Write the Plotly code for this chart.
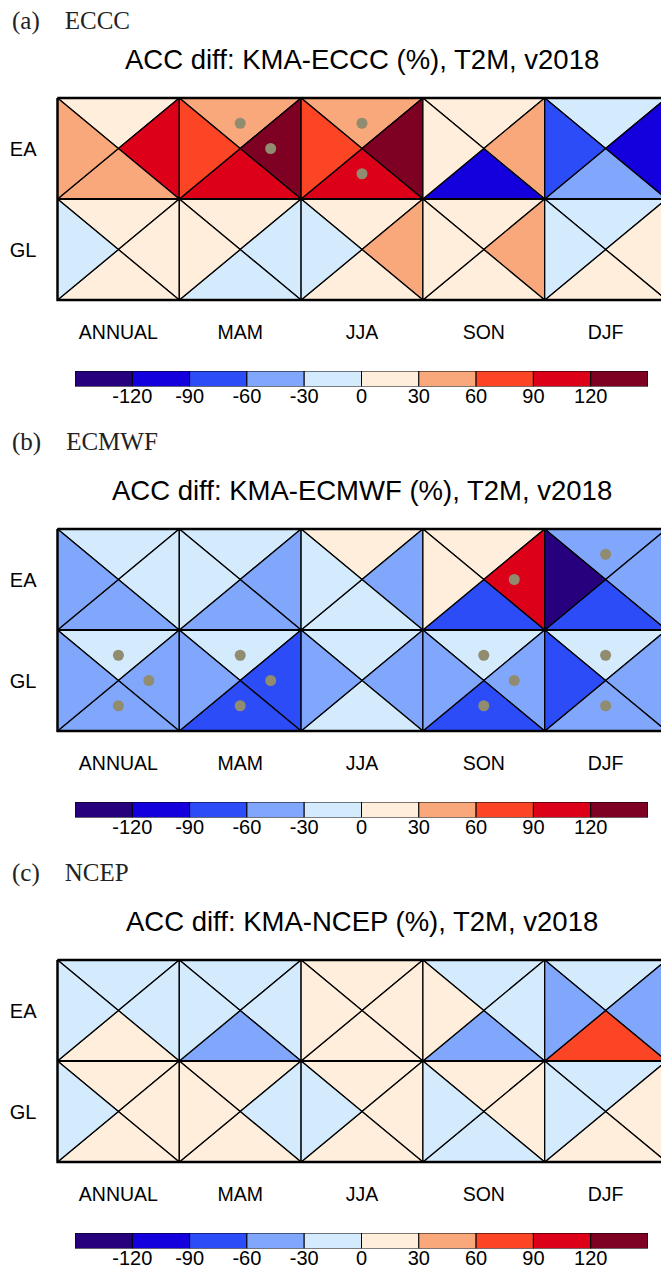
import plotly.graph_objects as go

W, H = 661, 1272

# ---------------- data ----------------
seasons = ["ANNUAL", "MAM", "JJA", "SON", "DJF"]
regions = ["EA", "GL"]
quadrants = ["top", "right", "bottom", "left"]

# ACC difference (%) per season cell: [top, right, bottom, left]
eccc_EA = [[12, 104, 41, 47], [52, 131, 108, 82], [48, 137, 112, 79], [18, 39, -98, 9], [-14, -109, -43, -72]]
eccc_GL = [[11, 8, 14, -6], [7, -12, -9, 10], [13, 36, 16, -8], [9, 34, 12, 6], [-10, 5, 17, -13]]
eccc_EA_sig = [[0, 0, 0, 0], [1, 1, 0, 0], [1, 0, 1, 0], [0, 0, 0, 0], [0, 0, 0, 0]]
eccc_GL_sig = [[0, 0, 0, 0], [0, 0, 0, 0], [0, 0, 0, 0], [0, 0, 0, 0], [0, 0, 0, 0]]

ecmwf_EA = [[-18, -11, -41, -47], [-22, -38, -44, -16], [8, -36, -20, -14], [6, 103, -68, 12], [-52, -40, -83, -128]]
ecmwf_GL = [[-26, -39, -42, -45], [-24, -63, -71, -37], [-21, -33, -17, -40], [-27, -44, -66, -35], [-25, -48, -38, -64]]
ecmwf_EA_sig = [[0, 0, 0, 0], [0, 0, 0, 0], [0, 0, 0, 0], [0, 1, 0, 0], [1, 0, 0, 0]]
ecmwf_GL_sig = [[1, 1, 1, 0], [1, 1, 1, 0], [0, 0, 0, 0], [1, 1, 1, 0], [1, 0, 1, 0]]

ncep_EA = [[-9, -13, 7, -17], [-15, -11, -34, -19], [4, 9, 13, 6], [-12, -8, -37, 5], [-23, -42, 68, -46]]
ncep_GL = [[6, 9, 5, -4], [8, -7, 11, 4], [7, 3, 10, -5], [5, 11, -6, -9], [-8, 4, 13, -11]]
ncep_EA_sig = [[0, 0, 0, 0], [0, 0, 0, 0], [0, 0, 0, 0], [0, 0, 0, 0], [0, 0, 0, 0]]
ncep_GL_sig = [[0, 0, 0, 0], [0, 0, 0, 0], [0, 0, 0, 0], [0, 0, 0, 0], [0, 0, 0, 0]]

panel_tags = ["(a)", "(b)", "(c)"]
models = ["ECCC", "ECMWF", "NCEP"]

levels = [-150, -120, -90, -60, -30, 0, 30, 60, 90, 120, 150]
level_colors = ["#27007e", "#1300dc", "#2b4cf6", "#80a7fb", "#d4ebfe",
                "#feeedb", "#f9a87b", "#fb4524", "#dc0019", "#7e0023"]
tick_labels = [-120, -90, -60, -30, 0, 30, 60, 90, 120]

panels = [
    (eccc_EA, eccc_GL, eccc_EA_sig, eccc_GL_sig),
    (ecmwf_EA, ecmwf_GL, ecmwf_EA_sig, ecmwf_GL_sig),
    (ncep_EA, ncep_GL, ncep_EA_sig, ncep_GL_sig),
]

# ---------------- layout geometry (pixels) ----------------
grid_top = [98, 529, 960]
label_y = [21, 442, 873]
title_y = [59, 490, 921]
CW, RH, X0 = 121.8, 101.0, 57.5
PAD = 6

FONT = "Liberation Sans, Arial, sans-serif"
SERIF = "Liberation Serif, Times New Roman, serif"
DOT = "#918b70"


def color_of(v):
    for k in range(len(level_colors)):
        if v < levels[k + 1]:
            return level_colors[k]
    return level_colors[-1]


def tri(q, c, r):
    cx, cy = c + 0.5, r + 0.5
    if q == "top":
        return [c, c + 1, cx, c], [r, r, cy, r]
    if q == "right":
        return [c + 1, c + 1, cx, c + 1], [r, r + 1, cy, r]
    if q == "bottom":
        return [c + 1, c, cx, c + 1], [r + 1, r + 1, cy, r + 1]
    return [c, c, cx, c], [r + 1, r, cy, r + 1]


dot_off = {"top": (0.5, 0.25), "right": (0.75, 0.5), "bottom": (0.5, 0.75), "left": (0.25, 0.5)}

fig = go.Figure()
annotations = []
layout = {}

for i, (ea, gl, ea_s, gl_s) in enumerate(panels):
    n = i + 1
    xr = "x" if n == 1 else f"x{n}"
    yr = "y" if n == 1 else f"y{n}"
    gt = grid_top[i]
    dots_x, dots_y = [], []
    for r, (vals, sig) in enumerate([(ea, ea_s), (gl, gl_s)]):
        for c in range(len(seasons)):
            for qi, q in enumerate(quadrants):
                xs, ys = tri(q, c, r)
                fig.add_trace(go.Scatter(
                    x=xs, y=ys, mode="lines", fill="toself",
                    fillcolor=color_of(vals[c][qi]),
                    line=dict(color="black", width=1.3),
                    xaxis=xr, yaxis=yr, showlegend=False, hoverinfo="skip"))
                if sig[c][qi]:
                    dx, dy = dot_off[q]
                    dots_x.append(c + dx)
                    dots_y.append(r + dy)
    # outer border
    nc = len(seasons)
    fig.add_trace(go.Scatter(x=[0, nc, nc, 0, 0], y=[0, 0, 2, 2, 0], mode="lines",
                             line=dict(color="black", width=2.4),
                             xaxis=xr, yaxis=yr, showlegend=False, hoverinfo="skip"))
    fig.add_trace(go.Scatter(x=[0, nc], y=[1, 1], mode="lines",
                             line=dict(color="black", width=2.0),
                             xaxis=xr, yaxis=yr, showlegend=False, hoverinfo="skip"))
    if dots_x:
        fig.add_trace(go.Scatter(x=dots_x, y=dots_y, mode="markers",
                                 marker=dict(size=11, color=DOT, line=dict(width=0)),
                                 xaxis=xr, yaxis=yr, showlegend=False, hoverinfo="skip"))

    layout["xaxis" if n == 1 else f"xaxis{n}"] = dict(
        domain=[(X0 - PAD) / W, 1], range=[-PAD / CW, (W - X0) / CW],
        tickvals=[c + 0.5 for c in range(nc)], ticktext=seasons, ticks="",
        showgrid=False, zeroline=False, showline=False, anchor=yr,
        tickfont=dict(family=FONT, size=19.5, color="black"), ticklabelstandoff=12)
    layout["yaxis" if n == 1 else f"yaxis{n}"] = dict(
        domain=[1 - (gt + 2 * RH + PAD) / H, 1 - (gt - PAD) / H],
        range=[2 + PAD / RH, -PAD / RH],
        tickvals=[0.5, 1.5], ticktext=regions, ticks="",
        showgrid=False, zeroline=False, showline=False, anchor=xr,
        tickfont=dict(family=FONT, size=20, color="black"), ticklabelstandoff=14)

    # colorbar (discrete) as bars on its own axes
    m = n + 3
    cxr, cyr = f"x{m}", f"y{m}"
    centers = [(levels[k] + levels[k + 1]) / 2 for k in range(len(level_colors))]
    fig.add_trace(go.Bar(x=centers, y=[1] * len(centers), width=30,
                         marker=dict(color=level_colors, line=dict(color="black", width=1)),
                         xaxis=cxr, yaxis=cyr, cliponaxis=False,
                         showlegend=False, hoverinfo="skip"))
    cb_top = gt + 273
    layout[f"xaxis{m}"] = dict(
        domain=[75 / W, 648 / W], range=[levels[0], levels[-1]],
        tickvals=tick_labels, ticktext=[str(t) for t in tick_labels], ticks="",
        showgrid=False, zeroline=False, showline=False, anchor=cyr,
        tickfont=dict(family=FONT, size=20, color="black"), ticklabelstandoff=-5)
    layout[f"yaxis{m}"] = dict(
        domain=[1 - (cb_top + 15.5) / H, 1 - cb_top / H], range=[0, 1],
        showticklabels=False, showgrid=False, zeroline=False, showline=False, anchor=cxr)

    annotations.append(dict(
        text=f"ACC diff: KMA-{models[i]} (%), T2M, v2018",
        xref=xr, x=nc / 2, yref="paper", y=1 - title_y[i] / H,
        xanchor="center", yanchor="middle", showarrow=False,
        font=dict(family=FONT, size=27.5, color="black")))
    annotations.append(dict(
        text=f"{panel_tags[i]}\u2003{models[i]}",
        xref="paper", x=10 / W, yref="paper", y=1 - label_y[i] / H,
        xanchor="left", yanchor="middle", showarrow=False,
        font=dict(family=SERIF, size=25, color="#222222")))

fig.update_layout(
    width=W, height=H, margin=dict(l=0, r=0, t=0, b=0),
    paper_bgcolor="white", plot_bgcolor="white", hovermode=False,
    annotations=annotations, barmode="overlay", **layout)

fig.write_html("out.html", config={"displayModeBar": False, "staticPlot": True},
               post_script="document.body.style.margin='0px';document.body.style.padding='0px';")
